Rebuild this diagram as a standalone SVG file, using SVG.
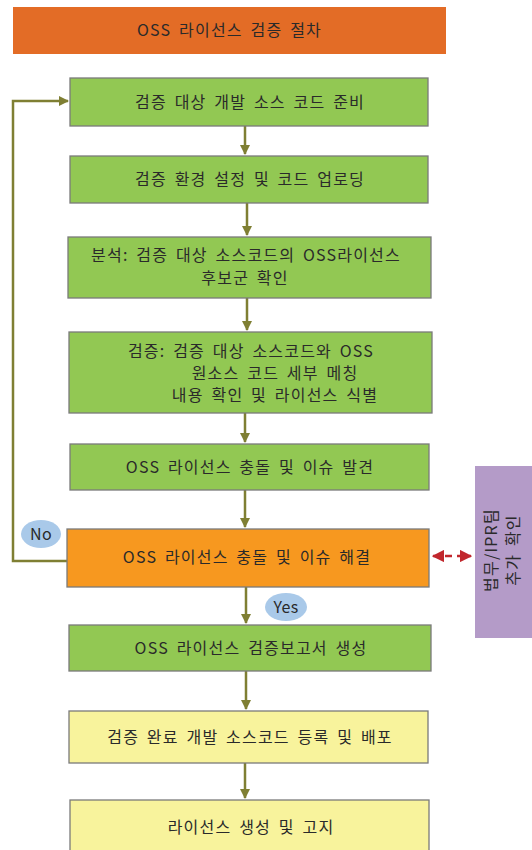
<svg xmlns="http://www.w3.org/2000/svg" width="532" height="850" viewBox="0 0 532 850">
<defs>
<style>
.t{font-family:"Noto Sans CJK KR","Liberation Sans",sans-serif;font-size:16px;fill:#2a2a2a;text-anchor:middle;letter-spacing:1.2px;word-spacing:3px}
.s{letter-spacing:0.3px;word-spacing:0}
.g{fill:#92C853;stroke:#7a7a7a;stroke-width:1.3}
.y{fill:#F8F39C;stroke:#7a7a7a;stroke-width:1.3}
.o{fill:#F7981F;stroke:#7a7a7a;stroke-width:1.3}
.c{fill:none;stroke:#7F7F33;stroke-width:2.5}
.e{fill:#A9C9E9}
</style>
<marker id="ah" viewBox="0 0 10 10" refX="9" refY="5" markerWidth="4" markerHeight="4" orient="auto" markerUnits="strokeWidth">
<path d="M0,0 L10,5 L0,10 Z" fill="#7F7F33"/>
</marker>
<marker id="rh" viewBox="0 0 10 10" refX="9" refY="5" markerWidth="5" markerHeight="5" orient="auto-start-reverse" markerUnits="strokeWidth">
<path d="M0,0 L10,5 L0,10 Z" fill="#C1272D"/>
</marker>
</defs>
<rect width="532" height="850" fill="#ffffff"/>
<g id="title">
<rect x="13" y="7" width="433" height="47" fill="#E36C26"/>
<text class="t" x="229.5" y="36">OSS 라이선스 검증 절차</text>
</g>
<g id="connectors">
<line class="c" x1="245" y1="126" x2="245" y2="154" marker-end="url(#ah)"/>
<line class="c" x1="247" y1="203" x2="247" y2="235" marker-end="url(#ah)"/>
<line class="c" x1="247" y1="298" x2="247" y2="330" marker-end="url(#ah)"/>
<line class="c" x1="245" y1="413" x2="245" y2="442" marker-end="url(#ah)"/>
<line class="c" x1="245" y1="490" x2="245" y2="527" marker-end="url(#ah)"/>
<line class="c" x1="246" y1="587" x2="246" y2="623" marker-end="url(#ah)"/>
<line class="c" x1="246" y1="671" x2="246" y2="709" marker-end="url(#ah)"/>
<line class="c" x1="245" y1="763" x2="245" y2="798" marker-end="url(#ah)"/>
<polyline class="c" points="67,561 13,561 13,101 68,101" marker-end="url(#ah)"/>
<line x1="433" y1="556" x2="471" y2="556" stroke="#C1272D" stroke-width="2.5" stroke-dasharray="7,5" marker-start="url(#rh)" marker-end="url(#rh)"/>
</g>
<g id="n1">
<rect class="g" x="70" y="78" width="358" height="48"/>
<text class="t" x="250" y="108">검증 대상 개발 소스 코드 준비</text>
</g>
<g id="n2">
<rect class="g" x="70" y="156" width="358" height="47"/>
<text class="t" x="250" y="185">검증 환경 설정 및 코드 업로딩</text>
</g>
<g id="n3">
<rect class="g" x="68" y="237" width="363" height="61"/>
<text class="t" x="246" y="261">분석: 검증 대상 소스코드의 OSS라이선스</text>
<text class="t" x="245" y="284">후보군 확인</text>
</g>
<g id="n4">
<rect class="g" x="69" y="332" width="363" height="81"/>
<text class="t" x="251" y="357">검증: 검증 대상 소스코드와 OSS</text>
<text class="t" x="275" y="379">원소스 코드 세부 메칭</text>
<text class="t" x="275" y="401">내용 확인 및 라이선스 식별</text>
</g>
<g id="n5">
<rect class="g" x="70" y="444" width="359" height="46"/>
<text class="t" x="250" y="473">OSS 라이선스 충돌 및 이슈 발견</text>
</g>
<g id="n6">
<rect class="o" x="67" y="529" width="362" height="58"/>
<text class="t" x="247" y="563">OSS 라이선스 충돌 및 이슈 해결</text>
</g>
<g id="no">
<ellipse class="e" cx="41" cy="534" rx="20" ry="14"/>
<text class="t s" x="41" y="540">No</text>
</g>
<g id="yes">
<ellipse class="e" cx="286" cy="607" rx="21" ry="14"/>
<text class="t s" x="286" y="613">Yes</text>
</g>
<g id="n7">
<rect class="g" x="69" y="625" width="362" height="46"/>
<text class="t" x="251" y="654">OSS 라이선스 검증보고서 생성</text>
</g>
<g id="n8">
<rect class="y" x="69" y="711" width="359" height="52"/>
<text class="t" x="250" y="743">검증 완료 개발 소스코드 등록 및 배포</text>
</g>
<g id="n9">
<rect class="y" x="70" y="800" width="359" height="60"/>
<text class="t" x="251" y="833">라이선스 생성 및 고지</text>
</g>
<g id="legal">
<rect x="475" y="466" width="60" height="172" fill="#B49BC8"/>
<text class="t" transform="translate(503,550) rotate(-90)"><tspan x="0" y="-6">법무/IPR팀</tspan><tspan x="0" y="16">추가 확인</tspan></text>
</g>
</svg>
